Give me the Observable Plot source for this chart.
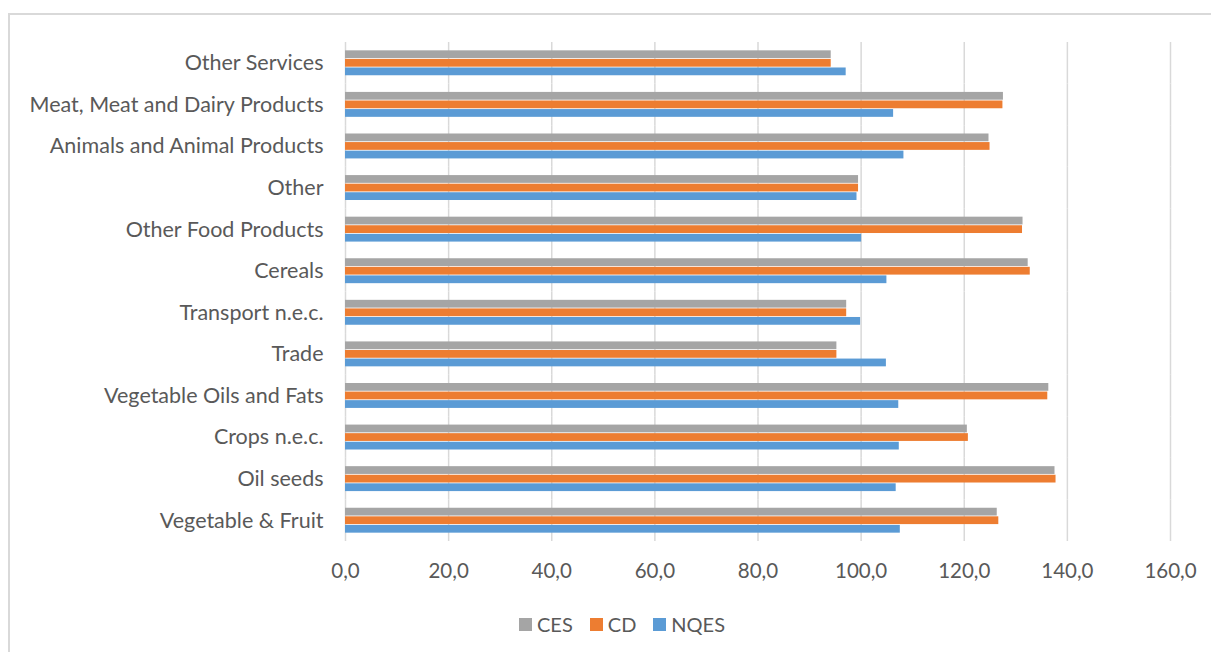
<!DOCTYPE html>
<html>
<head>
<meta charset="utf-8">
<script src="https://cdn.jsdelivr.net/npm/d3@7"></script>
<script src="https://cdn.jsdelivr.net/npm/@observablehq/plot@0.6"></script>
<style>
  html, body { margin: 0; padding: 0; background: #fff; }
  #wrap { position: relative; width: 1211px; height: 652px; overflow: hidden; font-family: Lato, "Open Sans", sans-serif; }
  #frame { position: absolute; left: 8px; top: 13px; width: 1300px; height: 800px; border: 2px solid #d9d9d9; box-sizing: border-box; }
  #chart { position: absolute; left: 0; top: 0; }
  #legend { position: absolute; left: 519px; top: 612px; display: flex; align-items: center; font-size: 20px; color: #595959; white-space: nowrap; }
  #legend .item { display: flex; align-items: center; margin-right: 17px; }
  #legend .sw { width: 13px; height: 13px; margin-right: 5px; }
  #chart svg g[aria-label="fy-axis tick label"] text { font-size: 21.5px; }
</style>
</head>
<body>
<div id="wrap">
  <div id="frame"></div>
  <div id="chart"></div>
  <div id="legend"></div>
</div>
<script>
const categories = [
  "Other Services",
  "Meat, Meat and Dairy Products",
  "Animals and Animal Products",
  "Other",
  "Other Food Products",
  "Cereals",
  "Transport n.e.c.",
  "Trade",
  "Vegetable Oils and Fats",
  "Crops n.e.c.",
  "Oil seeds",
  "Vegetable & Fruit"
];
const seriesNames = ["CES", "CD", "NQES"];
const seriesColors = ["#A5A5A5", "#ED7D31", "#5B9BD5"];
const ces  = [94.2, 127.6, 124.8, 99.5, 131.4, 132.4, 97.2, 95.3, 136.4, 120.6, 137.6, 126.4];
const cd   = [94.2, 127.5, 125.0, 99.5, 131.3, 132.8, 97.2, 95.3, 136.2, 120.8, 137.8, 126.7];
const nqes = [97.1, 106.3, 108.3, 99.2, 100.1, 105.0, 99.9, 104.9, 107.3, 107.4, 106.8, 107.6];
const xTicks = [0, 20, 40, 60, 80, 100, 120, 140, 160];

const seriesValues = {CES: ces, CD: cd, NQES: nqes};
const rows = categories.flatMap((c, i) =>
  seriesNames.map(s => ({category: c, series: s, value: seriesValues[s][i]}))
);

const chart = Plot.plot({
  width: 1211,
  height: 600,
  marginTop: 42,
  marginBottom: 59,
  marginLeft: 345,
  marginRight: 41,
  style: {fontFamily: "Lato, 'Open Sans', sans-serif", fontSize: "20.5px", color: "#595959", background: "transparent", overflow: "visible"},
  fy: {domain: categories, padding: 0, round: false, label: null, axis: "left", tickSize: 0, tickPadding: 22},
  y: {domain: seriesNames, axis: null, round: false, paddingInner: 0, paddingOuter: 0.925},
  x: {domain: [0, 160], ticks: xTicks, tickFormat: d => d.toFixed(1).replace(".", ","), tickSize: 0, tickPadding: 22, label: null, axis: "bottom"},
  color: {domain: seriesNames, range: seriesColors},
  marks: [
    Plot.ruleX(xTicks, {x: d => d, stroke: "#d9d9d9", strokeWidth: 1.5}),
    Plot.barX(rows, {fy: "category", y: "series", x: "value", fill: "series", insetTop: 0.4, insetBottom: 0.4})
  ]
});
document.getElementById("chart").appendChild(chart);

const legend = document.getElementById("legend");
seriesNames.forEach((s, i) => {
  const item = document.createElement("div");
  item.className = "item";
  const sw = document.createElement("div");
  sw.className = "sw";
  sw.style.background = seriesColors[i];
  const t = document.createElement("span");
  t.textContent = s;
  item.appendChild(sw);
  item.appendChild(t);
  legend.appendChild(item);
});
</script>
</body>
</html>
